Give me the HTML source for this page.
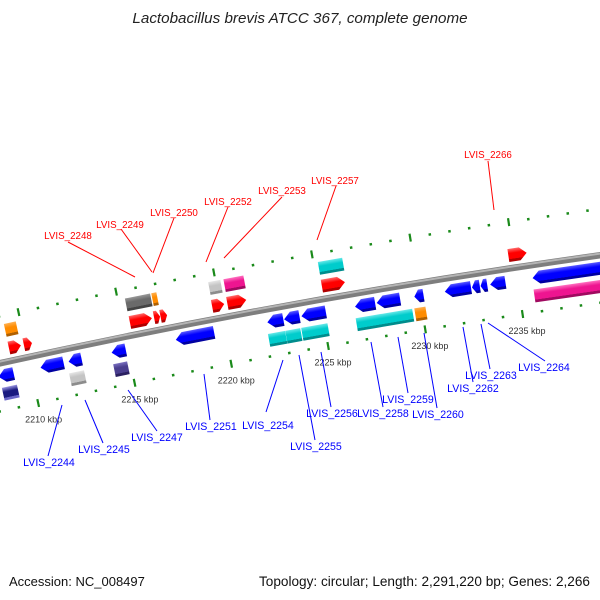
<!DOCTYPE html>
<html><head><meta charset="utf-8"><style>
body{margin:0;background:#fff;}
svg{display:block;font-family:"Liberation Sans",sans-serif;}
</style></head><body>
<svg id="chart" width="600" height="600" viewBox="0 0 600 600">
<defs id="defs"></defs>
<text x="300" y="23" text-anchor="middle" font-size="15.2" font-style="italic" fill="#222">Lactobacillus brevis ATCC 367, complete genome</text>
<text x="9" y="586" font-size="13" fill="#111">Accession: NC_008497</text>
<text x="590" y="586" text-anchor="end" font-size="13.6" fill="#111">Topology: circular; Length: 2,291,220 bp; Genes: 2,266</text>
<g id="plot"></g>
</svg>
<script>
// ---- data ----
const geneStarts = [2209.15,2209.92,2215.38,2216.62,2216.95,2219.60,2220.38,2225.22,2234.74,
  2209.16,2215.37,2216.72,2219.63,2220.41,2225.23,
  2208.33,2210.50,2211.95,2214.17,2217.48,2222.19,2223.05,2223.94,2226.69,2227.80,2229.73,2231.29,2232.68,2233.12,2233.61,2235.78,
  2208.37,2211.85,2214.13,2222.11,2223.00,2223.82,2226.62,2229.63,2235.74];
const geneEnds = [2209.77,2210.34,2216.51,2216.93,2217.29,2220.22,2221.35,2226.40,2235.67,
  2209.77,2216.66,2216.98,2220.25,2221.43,2226.47,
  2209.11,2211.69,2212.62,2214.90,2219.45,2223.01,2223.84,2225.19,2227.72,2229.00,2230.20,2232.63,2233.08,2233.46,2234.39,2239.60,
  2209.15,2212.62,2214.85,2222.99,2223.77,2225.17,2229.52,2230.20,2239.60];
const geneRows = [1,1,1,1,1,1,1,1,1, 2,2,2,2,2,2,
  -1,-1,-1,-1,-1,-1,-1,-1,-1,-1,-1,-1,-1,-1,-1,-1,
  -2,-2,-2,-2,-2,-2,-2,-2,-2];
const geneColors = ['red','red','red','red','red','red','red','red','red',
  'orange','dgray','orange','lgray','magenta','cyan',
  'blue','blue','blue','blue','blue','blue','blue','blue','blue','blue','blue','blue','blue','blue','blue','blue',
  'navy','lgray','purple','cyan','cyan','cyan','cyan','orange','magenta'];
const geneArrow = [1,1,1,1,1,1,1,1,1, 0,0,0,0,0,0,
  1,1,1,1,1,1,1,1,1,1,1,1,1,1,1,1,
  0,0,0,0,0,0,0,0,0];
const tickMajor = [2210,2215,2220,2225,2230,2235];
const tickLabels = ['2210 kbp','2215 kbp','2220 kbp','2225 kbp','2230 kbp','2235 kbp'];
const tickMinStart = 2207, tickMinEnd = 2240;
const labelNames = ['LVIS_2248','LVIS_2249','LVIS_2250','LVIS_2252','LVIS_2253','LVIS_2257','LVIS_2266',
  'LVIS_2244','LVIS_2245','LVIS_2247','LVIS_2251','LVIS_2254','LVIS_2255','LVIS_2256','LVIS_2258','LVIS_2259','LVIS_2260','LVIS_2262','LVIS_2263','LVIS_2264'];
// label layout: text center x, baseline y, line from (x1,y1) to (x2,y2)
const labelLayout = [
 [68,239,68,242,135,277],[120,228,121,229,152,272],[174,216,174,218,153,273],[228,205,228,207,206,262],[282,194,282,197,224,258],[335,184,336,186,317,240],[488,158,488,161,494,210],
 [49,466,48,456,62,405],[104,453,103,443,85,400],[157,441,157,431,128,390],[211,430,210,420,204,374],[268,429,266,412,283,360],[316,450,315,440,299,355],[332,417,331,407,321,352],[383,417,383,407,371,342],[408,403,408,393,398,337],[438,418,437,408,424,333],[473,392,473,382,463,327],[491,379,490,369,481,324],[544,371,545,361,488,323]];

// ---- axis functions ----
const CX = 1693, CY = 8049, R0 = 7870;
function phi(k){ return -10.77 + (k-2220)*0.1443; }
function pt(k, off){ const a = phi(k)*Math.PI/180, r = R0+off; return [CX + r*Math.sin(a), CY - r*Math.cos(a)]; }
function arcLen(k1,k2,off){ return (phi(k2)-phi(k1))*Math.PI/180*(R0+off); }
const rowOff = {'1':13,'2':31,'-1':-13,'-2':-31};

const NS = 'http://www.w3.org/2000/svg';
const plot = document.getElementById('plot');
const defs = document.getElementById('defs');
function mk(tag, attrs, parent){ const e = document.createElementNS(NS, tag); for (const k in attrs) e.setAttribute(k, attrs[k]); (parent||plot).appendChild(e); return e; }

const palette = {red:['#ff6a6a','#ff0000','#b00000'],blue:['#5a5aff','#0000ff','#0000a0'],cyan:['#66e8e8','#00cccc','#008c8c'],
  magenta:['#ff70c0','#ee1590','#a00a60'],orange:['#ffb050','#ff8c00','#b06000'],dgray:['#999','#6a6a6a','#444'],
  lgray:['#e6e6e6','#c4c4c4','#8c8c8c'],purple:['#7a70c0','#4a3e8e','#2a2060'],navy:['#9a96e0','#1a1a80','#6a66c8']};
for (const c in palette){
  const g = mk('linearGradient',{id:'g-'+c,x1:0,y1:0,x2:0,y2:1},defs);
  mk('stop',{offset:'0','stop-color':palette[c][0]},g);
  mk('stop',{offset:'0.35','stop-color':palette[c][1]},g);
  mk('stop',{offset:'0.78','stop-color':palette[c][1]},g);
  mk('stop',{offset:'0.8','stop-color':palette[c][2]},g);
  mk('stop',{offset:'1','stop-color':palette[c][2]},g);
}

// backbone
{
  const p1 = pt(2207,0), p2 = pt(2241,0);
  const bb = mk('path',{d:`M${p1[0]},${p1[1]} A${R0},${R0} 0 0 1 ${p2[0]},${p2[1]}`,fill:'none',stroke:'#7e7e7e','stroke-width':6.5});
  
  
  const q1 = pt(2207,1.6), q2 = pt(2241,1.6);
  const hl = mk('path',{d:`M${q1[0]},${q1[1]} A${R0+1.6},${R0+1.6} 0 0 1 ${q2[0]},${q2[1]}`,fill:'none',stroke:'#b4b4b4','stroke-width':2});
  
  
}

// ticks
[46,-47].forEach(function(off){
  for (let k = tickMinStart; k <= tickMinEnd; k++){
    const major = tickMajor.indexOf(k) >= 0;
    const p = pt(k, off);
    const g = mk('g',{transform:`translate(${p[0]},${p[1]}) rotate(${phi(k)})`});
    
    
    if (major) mk('rect',{x:-1,y:-4,width:2.2,height:8,fill:'#1a8a1a'},g);
    else mk('rect',{x:-1.2,y:-1.2,width:2.5,height:2.5,fill:'#1a8a1a'},g);
  }
});
tickMajor.forEach(function(k,i){
  const p = pt(k,-64);
  const t = mk('text',{x:p[0]+2,y:p[1]+3,'text-anchor':'middle','font-size':'9','fill':'#333'});
  t.textContent = tickLabels[i];
  
  
});

// genes
for (let i = 0; i < geneStarts.length; i++){
  const row = geneRows[i], off = rowOff[row];
  const km = (geneStarts[i]+geneEnds[i])/2;
  const w = arcLen(geneStarts[i], geneEnds[i], off);
  const h = 13;
  const p = pt(km, off);
  const g = mk('g',{transform:`translate(${p[0]},${p[1]}) rotate(${phi(km)})`});
  
  
  const x0 = -w/2, x1 = w/2, y0 = -h/2, y1 = h/2;
  let pts;
  if (geneArrow[i]){
    const a = Math.min(7, w*0.5);
    if (row > 0) pts = [[x0,y0],[x1-a,y0],[x1,0],[x1-a,y1],[x0,y1]];
    else pts = [[x1,y0],[x0+a,y0],[x0,0],[x0+a,y1],[x1,y1]];
  } else {
    pts = [[x0,y0],[x1,y0],[x1,y1],[x0,y1]];
  }
  mk('polygon',{points:pts.map(q=>q.join(',')).join(' '),fill:`url(#g-${geneColors[i]})`},g);
}

// labels
for (let i = 0; i < labelNames.length; i++){
  const L = labelLayout[i];
  const red = i < 7;
  const col = red ? '#ff0000' : '#0000ff';
  const ln = mk('line',{x1:L[2],y1:L[3],x2:L[4],y2:L[5],stroke:col,'stroke-width':1});
  
  
  const t = mk('text',{x:L[0],y:L[1],'text-anchor':'middle','font-size':red?'9.8':'10.6',fill:col});
  t.textContent = labelNames[i];
  
  
}
</script>
</body></html>
